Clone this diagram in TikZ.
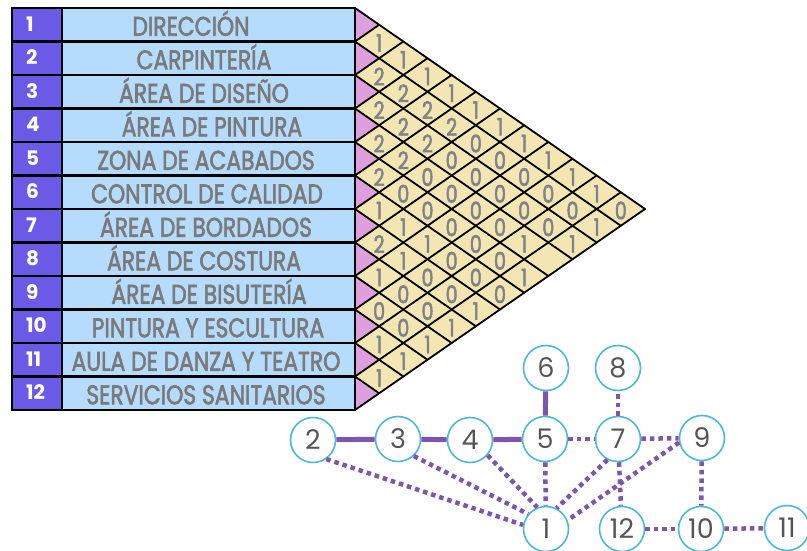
\documentclass[tikz,border=0pt]{standalone}
\usepackage{fontspec}
\setmainfont{Poppins}
\newfontfamily\medfont{Poppins}[FakeBold=2.5]
\definecolor{numblue}{HTML}{6A5AE6}
\definecolor{nameblue}{HTML}{B5DBFD}
\definecolor{pinkt}{HTML}{DDA0DD}
\definecolor{cellyel}{HTML}{F3E6B3}
\definecolor{txtgray}{HTML}{7A7A7A}
\definecolor{cellgray}{HTML}{80828A}
\definecolor{edgepurple}{HTML}{7D55AE}
\definecolor{ringcyan}{HTML}{4AB8D8}
\definecolor{digitgray}{HTML}{555555}
\tikzset{
  tableline/.style={draw=black, line width=2.4pt},
  gridline/.style={draw=black, line width=1.8pt, line cap=round},
  nametxt/.style={text=txtgray, font=\medfont\fontsize{27}{27}\selectfont, inner sep=0pt},
  numtxt/.style={text=white, font=\bfseries\fontsize{20}{20}\selectfont, inner sep=0pt},
  celltxt/.style={text=cellgray, font=\medfont\fontsize{24}{24}\selectfont, inner sep=0pt},
  gnode/.style={circle, draw=ringcyan, line width=1.6pt, fill=white, minimum size=45pt, inner sep=0pt, text=digitgray, font=\fontsize{27}{27}\selectfont},
  strongedge/.style={draw=edgepurple, line width=5pt},
  weakedge/.style={draw=edgepurple, line width=4.5pt, dash pattern=on 4.5pt off 4pt}
}
\begin{document}
\begin{tikzpicture}[x=1pt,y=-1pt]
\useasboundingbox (0,0) rectangle (807,551);
\def\xz{355}
\def\tp{8}
\def\hh{33.5}
\def\hw{24.1667}
% triangle matrix background
\fill[cellyel] (\xz,\tp) -- ({\xz+12*\hw},{\tp+6*\hh}) -- (\xz,{\tp+12*\hh}) -- cycle;
\foreach \i in {1,...,12}{
  \fill[pinkt] (\xz,{\tp+(\i-1)*\hh}) -- ({\xz+\hw},{\tp+(\i-0.5)*\hh}) -- (\xz,{\tp+\i*\hh}) -- cycle;
}
\foreach \k in {0,...,12}{
  \draw[gridline] (\xz,{\tp+\k*\hh}) -- ({\xz+(12-\k)*\hw},{\tp+(12+\k)*\hh/2});
  \draw[gridline] (\xz,{\tp+\k*\hh}) -- ({\xz+\k*\hw},{\tp+\k*\hh/2});
}
% values
\foreach \i/\vals in {
  1/{1,1,1,1,1,1,1,1,1,1,0},
  2/{2,2,2,2,0,0,0,0,0,1},
  3/{2,2,2,0,0,0,0,0,1},
  4/{2,2,0,0,0,0,1},
  5/{2,0,0,0,0,0,1},
  6/{1,1,1,0,0,0},
  7/{2,1,0,0,1},
  8/{1,0,0,1},
  9/{0,0,1},
  10/{1,1},
  11/{1}}{
  \foreach \v [count=\c] in \vals {
    \node[celltxt] (c\i-\c) at ({\xz+\c*\hw},{\tp+(2*\i+\c-1)*\hh/2+1.5}) {\scalebox{0.8}[1]{\v}};
  }
}
% table rows
\foreach \i/\nm/\cx in {
  1/DIRECCIÓN/191,
  2/CARPINTERÍA/204,
  3/ÁREA DE DISEÑO/204,
  4/ÁREA DE PINTURA/212,
  5/ZONA DE ACABADOS/206,
  6/CONTROL DE CALIDAD/207,
  7/ÁREA DE BORDADOS/206,
  8/ÁREA DE COSTURA/204,
  9/ÁREA DE BISUTERÍA/209,
  10/PINTURA Y ESCULTURA/208,
  11/AULA DE DANZA Y TEATRO/206,
  12/SERVICIOS SANITARIOS/206}{
  \fill[numblue] (12,{\tp+(\i-1)*\hh}) rectangle (62,{\tp+\i*\hh});
  \fill[nameblue] (62,{\tp+(\i-1)*\hh}) rectangle (\xz,{\tp+\i*\hh});
  \draw[tableline] (12,{\tp+(\i-1)*\hh}) rectangle (\xz,{\tp+\i*\hh});
  \draw[tableline] (62,{\tp+(\i-1)*\hh}) -- (62,{\tp+\i*\hh});
  \node[numtxt, anchor=base west] (num\i) at (26,{\tp+(\i-0.5)*\hh+6.5}) {\i};
  \node[nametxt, anchor=base] (name\i) at (\cx,{\tp+(\i-0.5)*\hh+11}) {\scalebox{0.81}[1]{\nm}};
}
% graph nodes
\node[gnode] (n2) at (313,440) {2};
\node[gnode] (n3) at (398,439) {3};
\node[gnode] (n4) at (470,440) {4};
\node[gnode] (n5) at (545,439) {5};
\node[gnode] (n6) at (546,368) {6};
\node[gnode] (n7) at (618,439) {7};
\node[gnode] (n8) at (618,368) {8};
\node[gnode] (n9) at (702,438) {9};
\node[gnode] (n1) at (546,529) {1};
\node[gnode] (n12) at (622,529) {12};
\node[gnode] (n10) at (701,529) {10};
\node[gnode] (n11) at (787,528) {11};
% edges
\draw[strongedge] (n2) -- (n3);
\draw[strongedge] (n3) -- (n4);
\draw[strongedge] (n4) -- (n5);
\draw[strongedge] (n5) -- (n6);
\draw[weakedge] (n2.-55) -- (n1.170);
\draw[weakedge] (n3.-47) -- (n1.140);
\draw[weakedge] (n4.-41) -- (n1.112);
\draw[weakedge] (n5) -- (n1);
\draw[weakedge] (n5) -- (n7);
\draw[weakedge] (n7) -- (n8);
\draw[weakedge] (n7) -- (n9);
\draw[weakedge] (n7.-117) -- (n1.63);
\draw[weakedge] (n9.191) -- (n1.22);
\draw[weakedge] (n7) -- (n12);
\draw[weakedge] (n9) -- (n10);
\draw[weakedge] (n12) -- (n10);
\draw[weakedge] (n10) -- (n11);
\end{tikzpicture}
\end{document}
